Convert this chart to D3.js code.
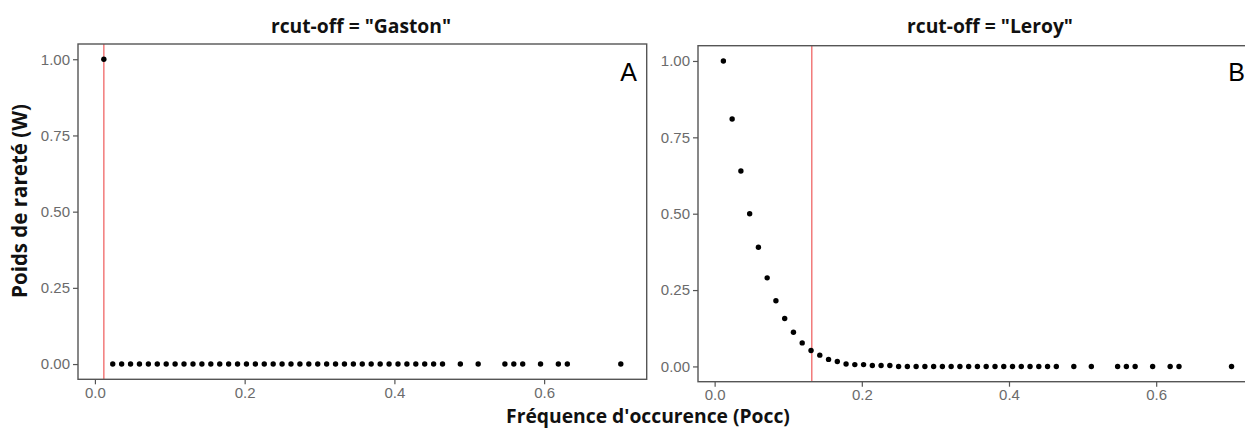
<!DOCTYPE html>
<html>
<head>
<meta charset="utf-8">
<script src="https://cdn.jsdelivr.net/npm/d3@7"></script>
<style>
  html, body { margin: 0; padding: 0; background: #fff; }
  svg { display: block; }
</style>
</head>
<body>
<svg id="chart" width="1245" height="430"></svg>
<script>
// Occurrence frequencies (Pocc)
const freq = [0.0119, 0.0238, 0.0357, 0.0476, 0.0595, 0.0714, 0.0833, 0.0952, 0.1071, 0.1190,
  0.1310, 0.1429, 0.1548, 0.1667, 0.1786, 0.1905, 0.2024, 0.2143, 0.2262, 0.2381,
  0.2500, 0.2619, 0.2738, 0.2857, 0.2976, 0.3095, 0.3214, 0.3333, 0.3452, 0.3571,
  0.3690, 0.3810, 0.3929, 0.4048, 0.4167, 0.4286, 0.4405, 0.4524, 0.4643,
  0.4881, 0.5119, 0.5476, 0.5595, 0.5714, 0.5952, 0.6190, 0.6310, 0.7024];
// Rarity weights (W), panel A: Gaston cut-off
const weightsGaston = [1, 0, 0, 0, 0, 0, 0, 0, 0, 0,
  0, 0, 0, 0, 0, 0, 0, 0, 0, 0,
  0, 0, 0, 0, 0, 0, 0, 0, 0, 0,
  0, 0, 0, 0, 0, 0, 0, 0, 0,
  0, 0, 0, 0, 0, 0, 0, 0, 0];
// Rarity weights (W), panel B: Leroy cut-off
const weightsLeroy = [1.00, 0.81, 0.64, 0.50, 0.39, 0.29, 0.215, 0.157, 0.112, 0.077,
  0.052, 0.037, 0.023, 0.016, 0.008, 0.006, 0.006, 0.003, 0.003, 0.003,
  0, 0, 0, 0, 0, 0, 0, 0, 0, 0,
  0, 0, 0, 0, 0, 0, 0, 0, 0,
  0, 0, 0, 0, 0, 0, 0, 0, 0];
const cutoffs = [0.0119, 0.132];
const titles = ['rcut-off = "Gaston"', 'rcut-off = "Leroy"'];
const panelTags = ["A", "B"];
const xTicks = [0.0, 0.2, 0.4, 0.6];
const yTicks = [0.00, 0.25, 0.50, 0.75, 1.00];
const xDomain = [-0.0226, 0.737];
const yDomain = [-0.05, 1.05];

const svg = d3.select("#chart");
svg.append("rect").attr("width", 1245).attr("height", 430).attr("fill", "#fff");

const panels = [
  { x0: 78, x1: 646.7, y0: 44, y1: 379.3, w: weightsGaston, cut: cutoffs[0], title: titles[0], tag: panelTags[0],
    titleX: 361, tagX: 637 },
  { x0: 698, x1: 1257, y0: 45.7, y1: 381.7, w: weightsLeroy, cut: cutoffs[1], title: titles[1], tag: panelTags[1],
    titleX: 990, tagX: 1245 }
];

const axisColor = "#555";
const tickTextColor = "#6b6b6b";

panels.forEach(p => {
  const x = d3.scaleLinear().domain(xDomain).range([p.x0, p.x1]);
  const y = d3.scaleLinear().domain(yDomain).range([p.y1, p.y0]);
  const g = svg.append("g");

  // red cut-off line
  g.append("line")
    .attr("x1", x(p.cut)).attr("x2", x(p.cut))
    .attr("y1", p.y0).attr("y2", p.y1)
    .attr("stroke", "#f27a7a").attr("stroke-width", 1.5);

  // points
  g.selectAll("circle").data(freq.map((f, i) => [f, p.w[i]])).join("circle")
    .attr("cx", d => x(d[0])).attr("cy", d => y(d[1]))
    .attr("r", 2.7).attr("fill", "#000");

  // panel border
  g.append("rect")
    .attr("x", p.x0).attr("y", p.y0)
    .attr("width", p.x1 - p.x0).attr("height", p.y1 - p.y0)
    .attr("fill", "none").attr("stroke", axisColor).attr("stroke-width", 1.4);

  // x axis
  const xa = svg.append("g").attr("transform", `translate(0,${p.y1})`)
    .call(d3.axisBottom(x).tickValues(xTicks).tickFormat(d3.format(".1f")).tickSizeOuter(0).tickSize(5).tickPadding(3));
  xa.select(".domain").remove();
  xa.selectAll("line").attr("stroke", axisColor).attr("stroke-width", 1.2);
  xa.selectAll("text").attr("fill", tickTextColor)
    .style("font-family", "'Liberation Sans', Arial, sans-serif").style("font-size", "15px");

  // y axis
  const ya = svg.append("g").attr("transform", `translate(${p.x0},0)`)
    .call(d3.axisLeft(y).tickValues(yTicks).tickFormat(d3.format(".2f")).tickSizeOuter(0).tickSize(5).tickPadding(3));
  ya.select(".domain").remove();
  ya.selectAll("line").attr("stroke", axisColor).attr("stroke-width", 1.2);
  ya.selectAll("text").attr("fill", tickTextColor)
    .style("font-family", "'Liberation Sans', Arial, sans-serif").style("font-size", "15px");

  // title
  svg.append("text").attr("x", p.titleX).attr("y", 33)
    .attr("text-anchor", "middle")
    .style("font-family", "'Open Sans', 'Noto Sans', sans-serif")
    .style("font-weight", "bold").style("font-size", "19.3px")
    .attr("fill", "#111").text(p.title);

  // panel tag
  svg.append("text").attr("x", p.tagX).attr("y", 81)
    .attr("text-anchor", "end")
    .style("font-family", "'Liberation Sans', Arial, sans-serif")
    .style("font-size", "25px").attr("fill", "#000").text(p.tag);
});

// axis titles
svg.append("text").attr("x", 648).attr("y", 423)
  .attr("text-anchor", "middle")
  .style("font-family", "'Open Sans', 'Noto Sans', sans-serif")
  .style("font-weight", "bold").style("font-size", "19.3px")
  .attr("fill", "#111").text("Fréquence d'occurence (Pocc)");

svg.append("text")
  .attr("transform", "translate(27,201) rotate(-90)")
  .attr("text-anchor", "middle")
  .style("font-family", "'Open Sans', 'Noto Sans', sans-serif")
  .style("font-weight", "bold").style("font-size", "20.5px")
  .attr("fill", "#111").text("Poids de rareté (W)");
</script>
</body>
</html>
